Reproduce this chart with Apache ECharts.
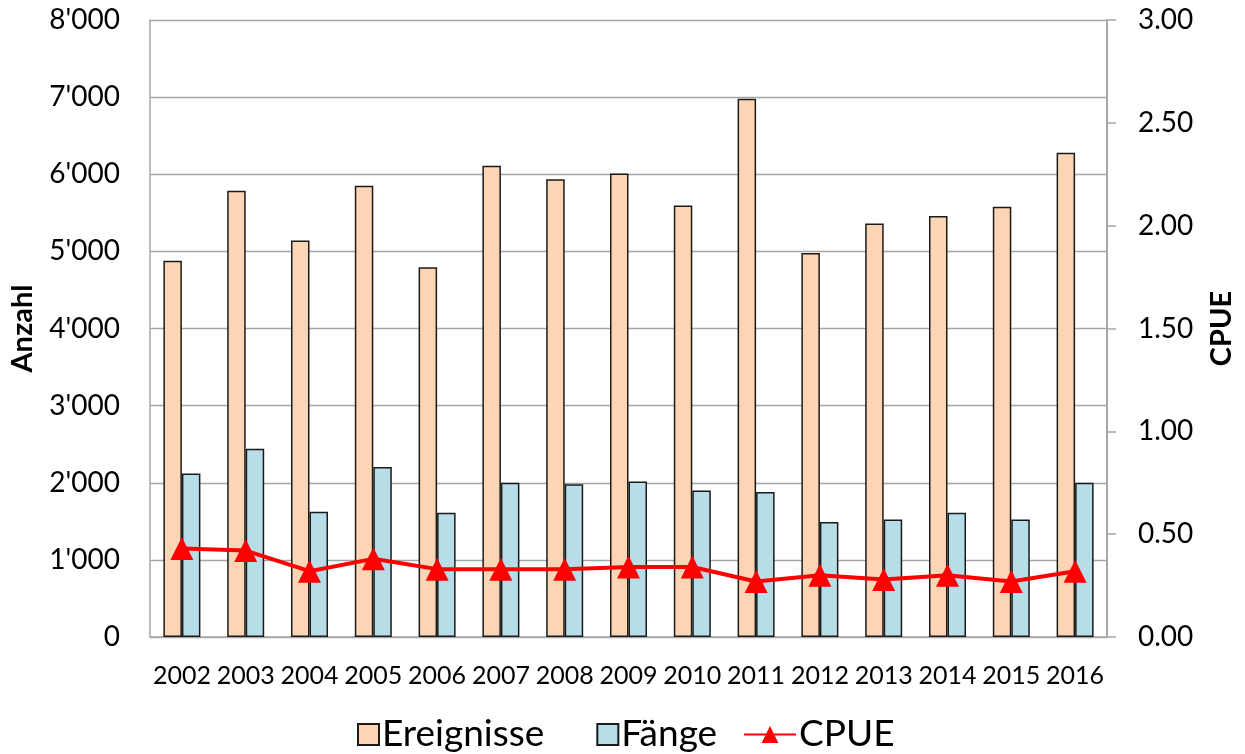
<!DOCTYPE html>
<html>
<head>
<meta charset="utf-8">
<title>Ereignisse, Fänge und CPUE 2002–2016</title>
<script src="https://cdn.jsdelivr.net/npm/echarts@6/dist/echarts.min.js"></script>
<style>
  html, body { margin: 0; padding: 0; background: #ffffff; }
  #chart { width: 1245px; height: 754px; }
</style>
</head>
<body>
<div id="chart"></div>
<script>
// Jahre
const years = ['2002', '2003', '2004', '2005', '2006', '2007', '2008', '2009',
               '2010', '2011', '2012', '2013', '2014', '2015', '2016'];
// Anzahl Ereignisse pro Jahr
const ereignisse = [4880, 5785, 5140, 5850, 4795, 6110, 5935, 6010,
                    5595, 6980, 4980, 5360, 5460, 5580, 6280];
// Anzahl Fänge pro Jahr
const faenge = [2120, 2440, 1625, 2205, 1610, 2000, 1980, 2015,
                1900, 1880, 1490, 1525, 1610, 1525, 2000];
// CPUE (Fänge pro Ereignis)
const cpue = [0.43, 0.42, 0.32, 0.38, 0.33, 0.33, 0.33, 0.34,
              0.34, 0.27, 0.30, 0.28, 0.30, 0.27, 0.32];

const FONT = 'Lato, "Open Sans", "Noto Sans", sans-serif';
const GRID_GREY = '#a6a6a6';

function thousands(v) {
  if (v === 0) return '0';
  const s = String(Math.round(v));
  return s.replace(/\B(?=(\d{3})+(?!\d))/g, "'");
}

const chart = echarts.init(document.getElementById('chart'), null, { renderer: 'canvas' });

chart.setOption({
  animation: false,
  backgroundColor: '#ffffff',
  textStyle: { fontFamily: FONT, color: '#000' },
  grid: { left: 150, right: 138, top: 20, bottom: 117, containLabel: false },
  legend: [
    {
      data: ['Ereignisse', 'Fänge'],
      left: 352, top: 711,
      itemWidth: 21, itemHeight: 21, itemGap: 52,
      icon: 'rect',
      textStyle: { fontFamily: FONT, fontSize: 37, color: '#000', padding: [0, 0, 0, -2] }
    },
    {
      data: ['CPUE'],
      left: 738, top: 711,
      itemWidth: 52, itemHeight: 21,
      textStyle: { fontFamily: FONT, fontSize: 37, color: '#000', padding: [0, 0, 0, -2] }
    }
  ],
  xAxis: {
    type: 'category',
    data: years,
    axisLine: { show: true, lineStyle: { color: GRID_GREY, width: 1.5 } },
    axisTick: { show: false },
    axisLabel: { fontFamily: FONT, fontSize: 25, color: '#000', margin: 26, interval: 0 }
  },
  yAxis: [
    {
      type: 'value',
      min: 0, max: 8000, interval: 1000,
      name: 'Anzahl',
      nameLocation: 'middle',
      nameGap: 113,
      nameRotate: 90,
      nameTextStyle: { fontFamily: FONT, fontSize: 29, fontWeight: 'bold', color: '#000' },
      axisLine: { show: true, lineStyle: { color: GRID_GREY, width: 1.5 } },
      axisTick: { show: false },
      splitLine: { show: true, lineStyle: { color: GRID_GREY, width: 1.3 } },
      axisLabel: { fontFamily: FONT, fontSize: 28, color: '#000', margin: 30, formatter: thousands }
    },
    {
      type: 'value',
      min: 0, max: 3, interval: 0.5,
      name: 'CPUE',
      nameLocation: 'middle',
      nameGap: 100,
      nameRotate: 90,
      nameTextStyle: { fontFamily: FONT, fontSize: 29, fontWeight: 'bold', color: '#000' },
      position: 'right',
      axisLine: { show: true, lineStyle: { color: GRID_GREY, width: 2 } },
      axisTick: { show: true, inside: false, length: 9, lineStyle: { color: GRID_GREY, width: 1.5 } },
      splitLine: { show: false },
      axisLabel: { fontFamily: FONT, fontSize: 28, color: '#000', margin: 31,
                   formatter: v => v.toFixed(2) }
    }
  ],
  series: [
    {
      name: 'Ereignisse',
      type: 'bar',
      data: ereignisse,
      barGap: '0%',
      barCategoryGap: '42%',
      itemStyle: { color: '#fcd5b5', borderColor: '#1a1a1a', borderWidth: 1.5 }
    },
    {
      name: 'Fänge',
      type: 'bar',
      data: faenge,
      barGap: '0%',
      barCategoryGap: '42%',
      itemStyle: { color: '#b7dee8', borderColor: '#1a1a1a', borderWidth: 1.5 }
    },
    {
      name: 'CPUE',
      type: 'line',
      yAxisIndex: 1,
      data: cpue,
      symbol: 'triangle',
      symbolSize: 23,
      lineStyle: { color: '#ff0000', width: 4 },
      itemStyle: { color: '#ff0000' },
      z: 5
    }
  ]
});
</script>
</body>
</html>
